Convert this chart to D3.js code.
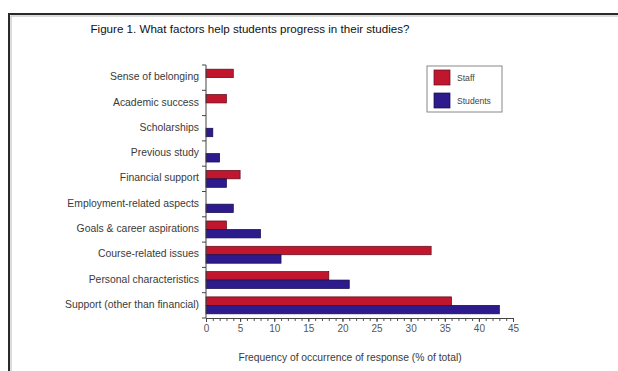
<!DOCTYPE html>
<html>
<head>
<meta charset="utf-8">
<script src="https://cdn.jsdelivr.net/npm/d3@7"></script>
<style>
  html, body { margin: 0; padding: 0; background: #fff; }
  svg { display: block; font-family: "Liberation Sans", Arial, Helvetica, sans-serif; }
</style>
</head>
<body>
<svg id="chart" width="618" height="371"></svg>
<script>
// Response categories, top to bottom
const categories = [
  "Sense of belonging",
  "Academic success",
  "Scholarships",
  "Previous study",
  "Financial support",
  "Employment-related aspects",
  "Goals & career aspirations",
  "Course-related issues",
  "Personal characteristics",
  "Support (other than financial)"
];
// Frequency of occurrence (% of total)
const staffValues    = [4, 3, 0, 0, 5, 0, 3, 33, 18, 36];
const studentValues  = [0, 0, 1, 2, 3, 4, 8, 11, 21, 43];
const seriesNames    = ["Staff", "Students"];
const xTicks         = [0, 5, 10, 15, 20, 25, 30, 35, 40, 45];

const colors  = { Staff: "#c0172f", Students: "#2d1a8c" };
const strokes = { Staff: "#5c0a18", Students: "#150a4a" };

const svg = d3.select("#chart");

// frame around the figure
svg.append("path")
  .attr("d", "M11,371 V16 H618")
  .attr("fill", "none").attr("stroke", "#b8b8b8").attr("stroke-width", 1);
svg.append("path")
  .attr("d", "M9,371 V14 H618")
  .attr("fill", "none").attr("stroke", "#2a2a2a").attr("stroke-width", 2);

// title
svg.append("text")
  .attr("x", 250).attr("y", 33)
  .attr("text-anchor", "middle")
  .attr("font-size", 11.6)
  .attr("fill", "#111")
  .text("Figure 1. What factors help students progress in their studies?");

const x = d3.scaleLinear().domain([0, 45]).range([206, 513]);
const y = d3.scaleBand().domain(categories).range([65, 318]).paddingInner(0.33).paddingOuter(0.165);
const inner = d3.scaleBand().domain(seriesNames).range([0, y.bandwidth()]);

const rows = categories.map((c, i) => ({
  category: c,
  values: [
    { series: "Staff", value: staffValues[i] },
    { series: "Students", value: studentValues[i] }
  ]
}));

// bars
const g = svg.append("g");
g.selectAll("g.row").data(rows).join("g")
  .attr("class", "row")
  .attr("transform", d => `translate(0,${y(d.category)})`)
  .selectAll("rect").data(d => d.values.filter(v => v.value > 0)).join("rect")
  .attr("x", x(0))
  .attr("y", d => inner(d.series))
  .attr("width", d => x(d.value) - x(0))
  .attr("height", inner.bandwidth())
  .attr("fill", d => colors[d.series])
  .attr("stroke", d => strokes[d.series])
  .attr("stroke-width", 0.7);

// x axis: minor ticks every unit, labelled every 5
const xAxisG = svg.append("g").attr("transform", "translate(0,318)");
xAxisG.call(d3.axisBottom(x).tickValues(d3.range(0, 46, 1)).tickSize(3).tickFormat(""))
  .call(a => a.select(".domain").remove())
  .call(a => a.selectAll("line").attr("stroke", "#555"));
xAxisG.append("g").call(d3.axisBottom(x).tickValues(xTicks).tickSize(4).tickPadding(3).tickSizeOuter(0))
  .call(a => a.select(".domain").attr("stroke", "#444"))
  .call(a => a.selectAll("line").attr("stroke", "#444"))
  .call(a => a.selectAll("text")
    .attr("font-family", "Liberation Sans, Arial, sans-serif")
    .attr("font-size", 10).attr("fill", "#555"));

// y axis: ticks at category boundaries
const step = y.step();
const yStart = 65;
const boundaries = d3.range(0, categories.length + 1).map(i => yStart + i * step);
const yAxisG = svg.append("g");
yAxisG.append("line")
  .attr("x1", x(0)).attr("x2", x(0)).attr("y1", yStart).attr("y2", 318)
  .attr("stroke", "#444");
yAxisG.selectAll("line.tick").data(boundaries).join("line")
  .attr("class", "tick")
  .attr("x1", x(0) - 4).attr("x2", x(0))
  .attr("y1", d => d).attr("y2", d => d)
  .attr("stroke", "#444");
yAxisG.selectAll("text").data(categories).join("text")
  .attr("x", 199)
  .attr("y", d => y(d) + y.bandwidth() / 2 - 1)
  .attr("dy", "0.35em")
  .attr("text-anchor", "end")
  .attr("font-size", 10.4)
  .attr("fill", "#3a3a3a")
  .text(d => d);

// x axis title
svg.append("text")
  .attr("x", 350).attr("y", 361)
  .attr("text-anchor", "middle")
  .attr("font-size", 10.3)
  .attr("fill", "#3a3a3a")
  .text("Frequency of occurrence of response (% of total)");

// legend
const legend = svg.append("g").attr("transform", "translate(427,66)");
legend.append("rect")
  .attr("width", 75).attr("height", 46)
  .attr("fill", "#fff").attr("stroke", "#888").attr("stroke-width", 1);
seriesNames.forEach((s, i) => {
  legend.append("rect")
    .attr("x", 7).attr("y", 4 + i * 23)
    .attr("width", 16).attr("height", 15)
    .attr("fill", colors[s]).attr("stroke", strokes[s]).attr("stroke-width", 0.7);
  legend.append("text")
    .attr("x", 30).attr("y", 12 + i * 23)
    .attr("dy", "0.35em")
    .attr("font-size", 8.6)
    .attr("fill", "#444")
    .text(s);
});
</script>
</body>
</html>
